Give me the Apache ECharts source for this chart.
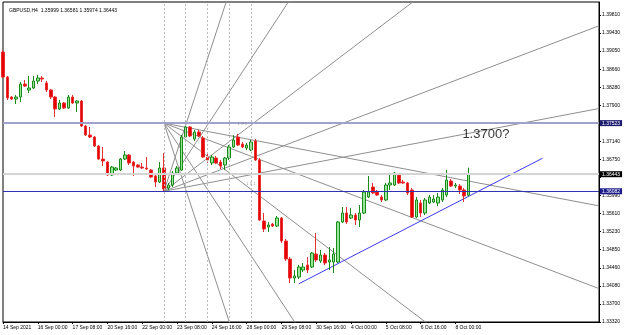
<!DOCTYPE html>
<html>
<head>
<meta charset="utf-8">
<script src="https://cdn.jsdelivr.net/npm/echarts@6/dist/echarts.min.js"></script>
<style>
  html, body { margin: 0; padding: 0; background: #fff; }
  #main { width: 625px; height: 335px; }
</style>
</head>
<body>
<div id="main"></div>
<script>
// GBPUSD H4, bars from 14 Sep 16:00 to 8 Oct 12:00
const symbol = "GBPUSD,H4";

const opens = [
  1.39027, 1.38498, 1.38075, 1.38033, 1.38075, 1.38350, 1.38224, 1.38266, 1.38414, 1.38477,
  1.38372, 1.38224, 1.38075, 1.37822, 1.37949, 1.37843, 1.38075, 1.37949, 1.37991, 1.37462,
  1.37272, 1.37229, 1.37039, 1.36764, 1.36701, 1.36426, 1.36532, 1.36532, 1.36764, 1.36849,
  1.36701, 1.36637, 1.36595, 1.36574, 1.36532, 1.36405, 1.36278, 1.36574, 1.36151, 1.36214,
  1.36468, 1.36532, 1.37229, 1.37441, 1.37187, 1.37335, 1.37208, 1.36806, 1.36680, 1.36785,
  1.36701, 1.36637, 1.36785, 1.37018, 1.37229, 1.37081, 1.36997, 1.36955, 1.37145, 1.36743,
  1.35453, 1.35326, 1.35389, 1.35347, 1.35516, 1.35030, 1.34649, 1.34247, 1.34268, 1.34417,
  1.34522, 1.34480, 1.34755, 1.34607, 1.34734, 1.34586, 1.34586, 1.34586, 1.35432, 1.35622,
  1.35516, 1.35580, 1.35474, 1.35622, 1.35960, 1.36172, 1.36066, 1.35960, 1.35897, 1.36214,
  1.36214, 1.36426, 1.36278, 1.36257, 1.36109, 1.35537, 1.35834, 1.35622, 1.35834, 1.35855,
  1.35834, 1.35897, 1.36003, 1.36299, 1.36193, 1.36193, 1.36109, 1.35999
];
const highs = [
  1.39070, 1.38520, 1.38097, 1.38118, 1.38393, 1.38435, 1.38520, 1.38520, 1.38541, 1.38520,
  1.38414, 1.38245, 1.38097, 1.38012, 1.37970, 1.38118, 1.38118, 1.38012, 1.38012, 1.37483,
  1.37441, 1.37251, 1.37060, 1.37018, 1.36722, 1.36616, 1.36595, 1.36785, 1.36933, 1.36870,
  1.36722, 1.36658, 1.36680, 1.36806, 1.36553, 1.36426, 1.36701, 1.36891, 1.36257, 1.36510,
  1.36616, 1.37272, 1.37523, 1.37462, 1.37378, 1.37378, 1.37251, 1.36912, 1.36849, 1.36828,
  1.36743, 1.36806, 1.37060, 1.37272, 1.37293, 1.37124, 1.37103, 1.37166, 1.37187, 1.36785,
  1.35622, 1.35432, 1.35411, 1.35559, 1.35537, 1.35072, 1.34691, 1.34417, 1.34522, 1.34565,
  1.34691, 1.34797, 1.35199, 1.34840, 1.34776, 1.34903, 1.34882, 1.35453, 1.35749, 1.35749,
  1.35728, 1.35622, 1.35791, 1.36109, 1.36405, 1.36257, 1.36109, 1.36003, 1.36257, 1.36426,
  1.36489, 1.36468, 1.36320, 1.36278, 1.36151, 1.35960, 1.35897, 1.35939, 1.36003, 1.36003,
  1.36045, 1.36151, 1.36532, 1.36341, 1.36257, 1.36235, 1.36151, 1.36581
];
const lows = [
  1.38477, 1.38012, 1.38012, 1.37927, 1.37970, 1.38287, 1.38160, 1.38245, 1.38350, 1.38393,
  1.38181, 1.38033, 1.37652, 1.37801, 1.37822, 1.37822, 1.37927, 1.37758, 1.37441, 1.37251,
  1.37208, 1.37018, 1.36743, 1.36616, 1.36405, 1.36405, 1.36510, 1.36510, 1.36743, 1.36637,
  1.36405, 1.36574, 1.36553, 1.36532, 1.36362, 1.36172, 1.36257, 1.36082, 1.36109, 1.36172,
  1.36426, 1.36510, 1.37208, 1.37229, 1.37145, 1.37229, 1.36785, 1.36680, 1.36637, 1.36658,
  1.36553, 1.36532, 1.36743, 1.36997, 1.37039, 1.36997, 1.36955, 1.36933, 1.36722, 1.35453,
  1.35220, 1.35220, 1.35326, 1.35326, 1.34988, 1.34607, 1.34142, 1.34142, 1.34226, 1.34374,
  1.34353, 1.34459, 1.34586, 1.34565, 1.34522, 1.34417, 1.34353, 1.34565, 1.35411, 1.35389,
  1.35495, 1.35368, 1.35326, 1.35601, 1.35939, 1.36024, 1.35982, 1.35855, 1.35876, 1.36109,
  1.36193, 1.36235, 1.36235, 1.36003, 1.35516, 1.35516, 1.35537, 1.35580, 1.35812, 1.35834,
  1.35770, 1.35855, 1.35960, 1.36172, 1.36151, 1.36024, 1.35855, 1.35974
];
const closes = [
  1.38498, 1.38054, 1.38033, 1.38075, 1.38350, 1.38308, 1.38266, 1.38414, 1.38477, 1.38456,
  1.38224, 1.38075, 1.37822, 1.37949, 1.37843, 1.38075, 1.37949, 1.37991, 1.37462, 1.37272,
  1.37229, 1.37039, 1.36764, 1.36722, 1.36426, 1.36595, 1.36574, 1.36764, 1.36849, 1.36680,
  1.36616, 1.36595, 1.36574, 1.36553, 1.36383, 1.36278, 1.36574, 1.36130, 1.36214, 1.36468,
  1.36574, 1.37229, 1.37441, 1.37251, 1.37335, 1.37251, 1.36806, 1.36743, 1.36806, 1.36680,
  1.36616, 1.36785, 1.37018, 1.37166, 1.37060, 1.37018, 1.37060, 1.37124, 1.36743, 1.35474,
  1.35284, 1.35368, 1.35347, 1.35516, 1.35030, 1.34649, 1.34247, 1.34290, 1.34480, 1.34480,
  1.34417, 1.34776, 1.34628, 1.34734, 1.34565, 1.34628, 1.34755, 1.35432, 1.35622, 1.35432,
  1.35580, 1.35474, 1.35622, 1.36066, 1.36066, 1.36045, 1.36003, 1.35897, 1.36214, 1.36257,
  1.36468, 1.36257, 1.36257, 1.36045, 1.35537, 1.35897, 1.35622, 1.35897, 1.35960, 1.35918,
  1.35960, 1.36109, 1.36320, 1.36193, 1.36214, 1.36109, 1.35982, 1.36443
];

// time labels every 8 bars
const dateLabels = [
  "14 Sep 2021", "16 Sep 00:00", "17 Sep 08:00", "20 Sep 16:00", "22 Sep 00:00",
  "23 Sep 08:00", "24 Sep 16:00", "28 Sep 00:00", "29 Sep 08:00", "30 Sep 16:00",
  "4 Oct 00:00", "5 Oct 08:00", "6 Oct 16:00", "8 Oct 00:00"
];
const labelStep = 8;
const futureBars = 30;

// price scale
const priceTicks = [
  1.39810, 1.39430, 1.39050, 1.38660, 1.38280, 1.37900, 1.37520, 1.37140, 1.36750,
  1.36370, 1.35990, 1.35610, 1.35230, 1.34850, 1.34460, 1.34080, 1.33700, 1.33320
];
const hiddenTickLabels = [1.37520, 1.36370];

// horizontal levels
const levelHigh = 1.37523;
const levelLow = 1.36082;

// gann fans (anchor bar, price per bar of each ray)
const fanBar = 37;
const fanSlopes = [0.0028, 0.0014, 0.0007, 0.00035, 0.000175];
const timeLines = [37, 42, 47, 52, 57];

// blue trendline
const trendBars = [68, 124];
const trendPrices = [1.34125, 1.3678];

const noteText = "1.3700?";
const notePoint = [111.2, 1.37293];
const gannLabels = [[55.2, 1.37504], [57.2, 1.36235]];

const lastBar = opens.length + futureBars - 1;
const categories = [];
for (let i = 0; i <= lastBar; i++) categories.push(String(i));

const candles = opens.map((o, i) => [o, closes[i], lows[i], highs[i]]);

const fmt = (v) => v.toFixed(5);
const font = "Liberation Sans, Arial, sans-serif";

const fanSeries = [];
fanSlopes.forEach((s) => {
  fanSeries.push({
    type: "line",
    silent: true,
    symbol: "none",
    lineStyle: { color: "#8f8f8f", width: 1 },
    data: [[fanBar, levelLow], [lastBar, levelLow + s * (lastBar - fanBar)]],
    z: 1,
  });
  fanSeries.push({
    type: "line",
    silent: true,
    symbol: "none",
    lineStyle: { color: "#8f8f8f", width: 1 },
    data: [[fanBar, levelHigh], [lastBar, levelHigh - s * (lastBar - fanBar)]],
    z: 1,
  });
});

const showDate = (idx) => idx % labelStep === 0 && idx / labelStep < dateLabels.length;

const levelLabel = (bg) => ({
  show: true,
  position: "end",
  distance: 1,
  formatter: (p) => fmt(p.value),
  color: "#fff",
  backgroundColor: bg,
  fontSize: 5,
  fontFamily: font,
  padding: [1, 2, 0, 2],
});

const chart = echarts.init(document.getElementById("main"));
chart.setOption({
  animation: false,
  backgroundColor: "#fff",
  title: {
    text: symbol + "  " + [opens, highs, lows, closes].map((a) => fmt(a[a.length - 1])).join(" "),
    left: 4,
    top: 3,
    textStyle: { fontSize: 5, fontWeight: "normal", color: "#000", fontFamily: font },
  },
  grid: {
    left: 3,
    right: 26,
    top: 2,
    bottom: 13,
    show: true,
    borderColor: "#000",
    borderWidth: 1,
    backgroundColor: "#fff",
  },
  xAxis: {
    type: "category",
    data: categories,
    boundaryGap: false,
    axisLine: { lineStyle: { color: "#000" } },
    axisTick: { show: true, interval: (i) => showDate(i), length: 2, lineStyle: { color: "#000" } },
    axisLabel: {
      interval: (i) => showDate(i),
      formatter: (v, i) => dateLabels[i / labelStep],
      align: "left",
      margin: 3,
      fontSize: 5,
      color: "#000",
      fontFamily: font,
    },
    splitLine: { show: false },
  },
  yAxis: {
    type: "value",
    position: "right",
    min: 1.33317,
    max: 1.40085,
    scale: true,
    axisLine: { show: true, lineStyle: { color: "#000" } },
    axisTick: { show: true, customValues: priceTicks, length: 2, lineStyle: { color: "#000" } },
    axisLabel: {
      customValues: priceTicks.filter((v) => !hiddenTickLabels.includes(v)),
      formatter: (v) => fmt(v),
      margin: 3,
      fontSize: 5,
      color: "#000",
      fontFamily: font,
    },
    splitLine: { show: false },
  },
  series: [
    ...fanSeries,
    {
      // trendline under the lows
      type: "line",
      silent: true,
      symbol: "none",
      lineStyle: { color: "#3c3cf0", width: 1 },
      data: trendBars.map((b, i) => [b, trendPrices[i]]),
      z: 2,
    },
    {
      type: "candlestick",
      data: candles,
      barWidth: 3,
      itemStyle: {
        color: "#98e698",
        color0: "#e60000",
        borderColor: "#1a8a1a",
        borderColor0: "#e83030",
        borderWidth: 1,
      },
      z: 3,
      markLine: {
        silent: true,
        symbol: "none",
        precision: 5,
        animation: false,
        data: [
          {
            yAxis: levelHigh,
            lineStyle: { color: "#a0a0cc", width: 2, type: "solid" },
            label: levelLabel("#1c1c70"),
          },
          {
            yAxis: closes[closes.length - 1],
            lineStyle: { color: "#d4d4d4", width: 2, type: "solid" },
            label: levelLabel("#000"),
          },
          {
            yAxis: levelLow,
            lineStyle: { color: "#3232b4", width: 1, type: "solid" },
            label: levelLabel("#1c1c8c"),
          },
          ...timeLines.map((b) => ({
            xAxis: b,
            lineStyle: { color: "#bcbcbc", width: 1, type: [2, 2] },
            label: { show: false },
          })),
        ],
      },
    },
    {
      type: "scatter",
      silent: true,
      symbolSize: 0,
      data: [notePoint],
      label: {
        show: true,
        position: "inside",
        formatter: noteText,
        fontSize: 13,
        color: "#000",
        fontFamily: font,
      },
      z: 5,
    },
    {
      type: "scatter",
      silent: true,
      symbolSize: 0,
      data: gannLabels,
      label: {
        show: true,
        position: "inside",
        formatter: "1 X 1",
        fontSize: 4,
        color: "#888",
        fontFamily: font,
      },
      z: 5,
    },
  ],
});
</script>
</body>
</html>
